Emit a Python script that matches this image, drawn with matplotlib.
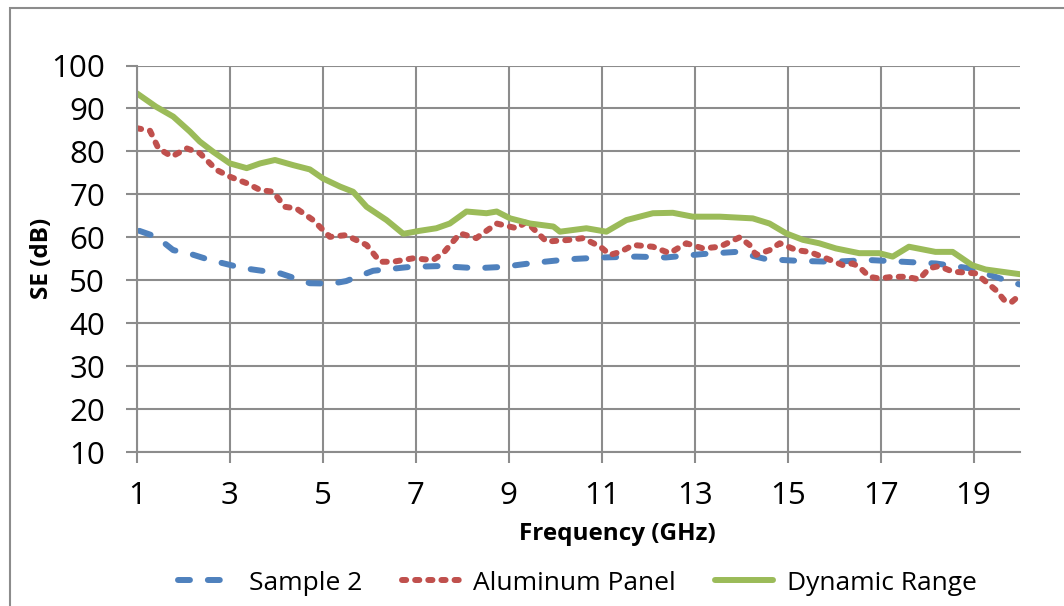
import matplotlib.pyplot as plt
from matplotlib.patches import Rectangle

# values
freq_s2 = [1.05, 1.42, 1.78, 2.07, 2.57, 3.29, 4.08, 4.72, 5.2, 5.5, 6.08, 6.87, 7.52, 8.3,
           8.87, 9.58, 10.31, 11.02, 11.74, 12.38, 13.18, 13.9, 14.54, 15.26, 15.97, 16.76,
           17.48, 18.19, 18.9, 19.69, 20]
se_s2 = [61.5, 60.1, 57.0, 56.4, 54.7, 52.8, 51.6, 49.3, 49.2, 49.8, 52.2, 53.1, 53.3, 52.8,
         53.1, 54.1, 54.9, 55.3, 55.5, 55.3, 56.1, 56.6, 54.9, 54.5, 54.3, 54.7,
         54.3, 53.9, 52.8, 50.0, 49.0]

freq_al = [1.0, 1.28, 1.46, 1.75, 2.07, 2.35, 2.71, 3.0, 3.36, 3.65, 3.93, 4.18, 4.43, 4.79,
           5.15, 5.5, 5.94, 6.23, 6.51, 6.94, 7.37, 7.59, 7.8, 7.95, 8.3, 8.74, 9.17, 9.38,
           9.81, 10.31, 10.6, 10.97, 11.18, 11.4, 11.68, 12.1, 12.46, 12.82, 13.18, 13.54,
           13.97, 14.18, 14.32, 14.61, 14.83, 15.19, 15.47, 15.83, 16.19, 16.4, 16.54,
           16.76, 16.97, 17.26, 17.55, 17.83, 18.05, 18.26, 18.55, 19.05, 19.26, 19.48,
           19.69, 19.83, 20]
se_al = [85.4, 84.8, 80.7, 78.8, 80.7, 79.6, 75.7, 74.1, 72.6, 71.0, 70.6, 67.1, 66.7, 64.0,
         60.1, 60.5, 58.2, 54.3, 54.3, 55.1, 54.7, 56.3, 59.0, 60.9, 59.8, 63.2, 62.1, 63.6,
         59.0, 59.4, 59.8, 57.8, 55.9, 56.6, 58.2, 57.8, 56.3, 58.6, 57.4, 57.8,
         60.0, 58.2, 55.9, 57.0, 58.6, 57.0, 56.6, 55.1, 53.5, 53.9, 53.1,
         50.8, 50.4, 50.8, 50.8, 50.2, 52.8, 53.3, 52.0, 51.6, 49.7, 47.7,
         45.0, 45.0, 46.6]

freq_dr = [1.0, 1.41, 1.78, 2.14, 2.35, 2.64, 3.0, 3.36, 3.65, 3.97, 4.36, 4.72, 5.0, 5.37,
           5.65, 5.94, 6.37, 6.73, 7.08, 7.44, 7.73, 8.09, 8.52, 8.74, 9.03, 9.46, 9.96,
           10.1, 10.67, 11.1, 11.53, 12.1, 12.53, 12.96, 13.54, 14.25, 14.61, 14.97, 15.33,
           15.68, 16.04, 16.54, 16.97, 17.26, 17.61, 18.18, 18.55, 18.97, 19.26, 20]
se_dr = [93.5, 90.4, 88.1, 84.6, 82.3, 79.9, 77.2, 76.1, 77.2, 78.0, 76.8, 75.8, 73.7, 71.8,
         70.6, 67.1, 64.0, 60.8, 61.5, 62.1, 63.2, 66.0, 65.6, 66.0, 64.4, 63.2, 62.5,
         61.3, 62.1, 61.3, 64.0, 65.6, 65.7, 64.8, 64.8, 64.4, 63.2, 60.9, 59.4,
         58.6, 57.4, 56.3, 56.3, 55.5, 57.8, 56.6, 56.6, 53.5, 52.5, 51.4]

xticks = [1, 3, 5, 7, 9, 11, 13, 15, 17, 19]
yticks = [10, 20, 30, 40, 50, 60, 70, 80, 90, 100]

plt.rcParams['font.family'] = ['Open Sans', 'DejaVu Sans']

fig = plt.figure(figsize=(10.64, 6.06), dpi=100)
ax = fig.add_axes([137 / 1064, 1 - 452 / 606, (1020 - 137) / 1064, (452 - 65.5) / 606])

lw = 4.3
ax.plot(freq_s2, se_s2, color='#4F81BD', lw=lw, dashes=(2.0, 3.0),
        dash_capstyle='round', label='Sample 2')
ax.plot(freq_al, se_al, color='#C0504D', lw=lw, dashes=(0.7, 1.5),
        dash_capstyle='round', label='Aluminum Panel')
ax.plot(freq_dr, se_dr, color='#9BBB59', lw=lw, solid_capstyle='round',
        label='Dynamic Range')

ax.set_xlim(1, 20)
ax.set_ylim(10, 100)
ax.set_xticks(xticks)
ax.set_yticks(yticks)
ax.grid(True, color='#8c8c8c', lw=1.5)
ax.set_axisbelow(True)
for s in ax.spines.values():
    s.set_visible(False)
for side in ('left', 'bottom'):
    ax.spines[side].set_visible(True)
    ax.spines[side].set_color('#8c8c8c')
    ax.spines[side].set_linewidth(1.5)
ax.tick_params(axis='both', length=8, width=1.5, color='#8c8c8c', labelsize=22.5)
ax.tick_params(axis='y', pad=15)
ax.tick_params(axis='x', pad=13)

ax.set_xlabel('Frequency (GHz)', fontsize=17.5, fontweight='bold')
ax.xaxis.set_label_coords((617 - 137) / 883, -(522 - 452) / 386.5)
ax.set_ylabel('SE (dB)', fontsize=17.5, fontweight='bold')
ax.yaxis.set_label_coords(-(137 - 54) / 883, 0.5)

fig.legend(loc='center', bbox_to_anchor=(577 / 1064, 1 - 583 / 606), ncol=3,
           frameon=False, fontsize=19, handlelength=2.2, columnspacing=1.5,
           handletextpad=0.5)

fig.patches.append(Rectangle((10 / 1064, -0.2), 1.5, 1.2 - 8 / 606,
                             transform=fig.transFigure, fill=False,
                             edgecolor='#8c8c8c', lw=1.5))

plt.savefig('out.png', dpi=100)
